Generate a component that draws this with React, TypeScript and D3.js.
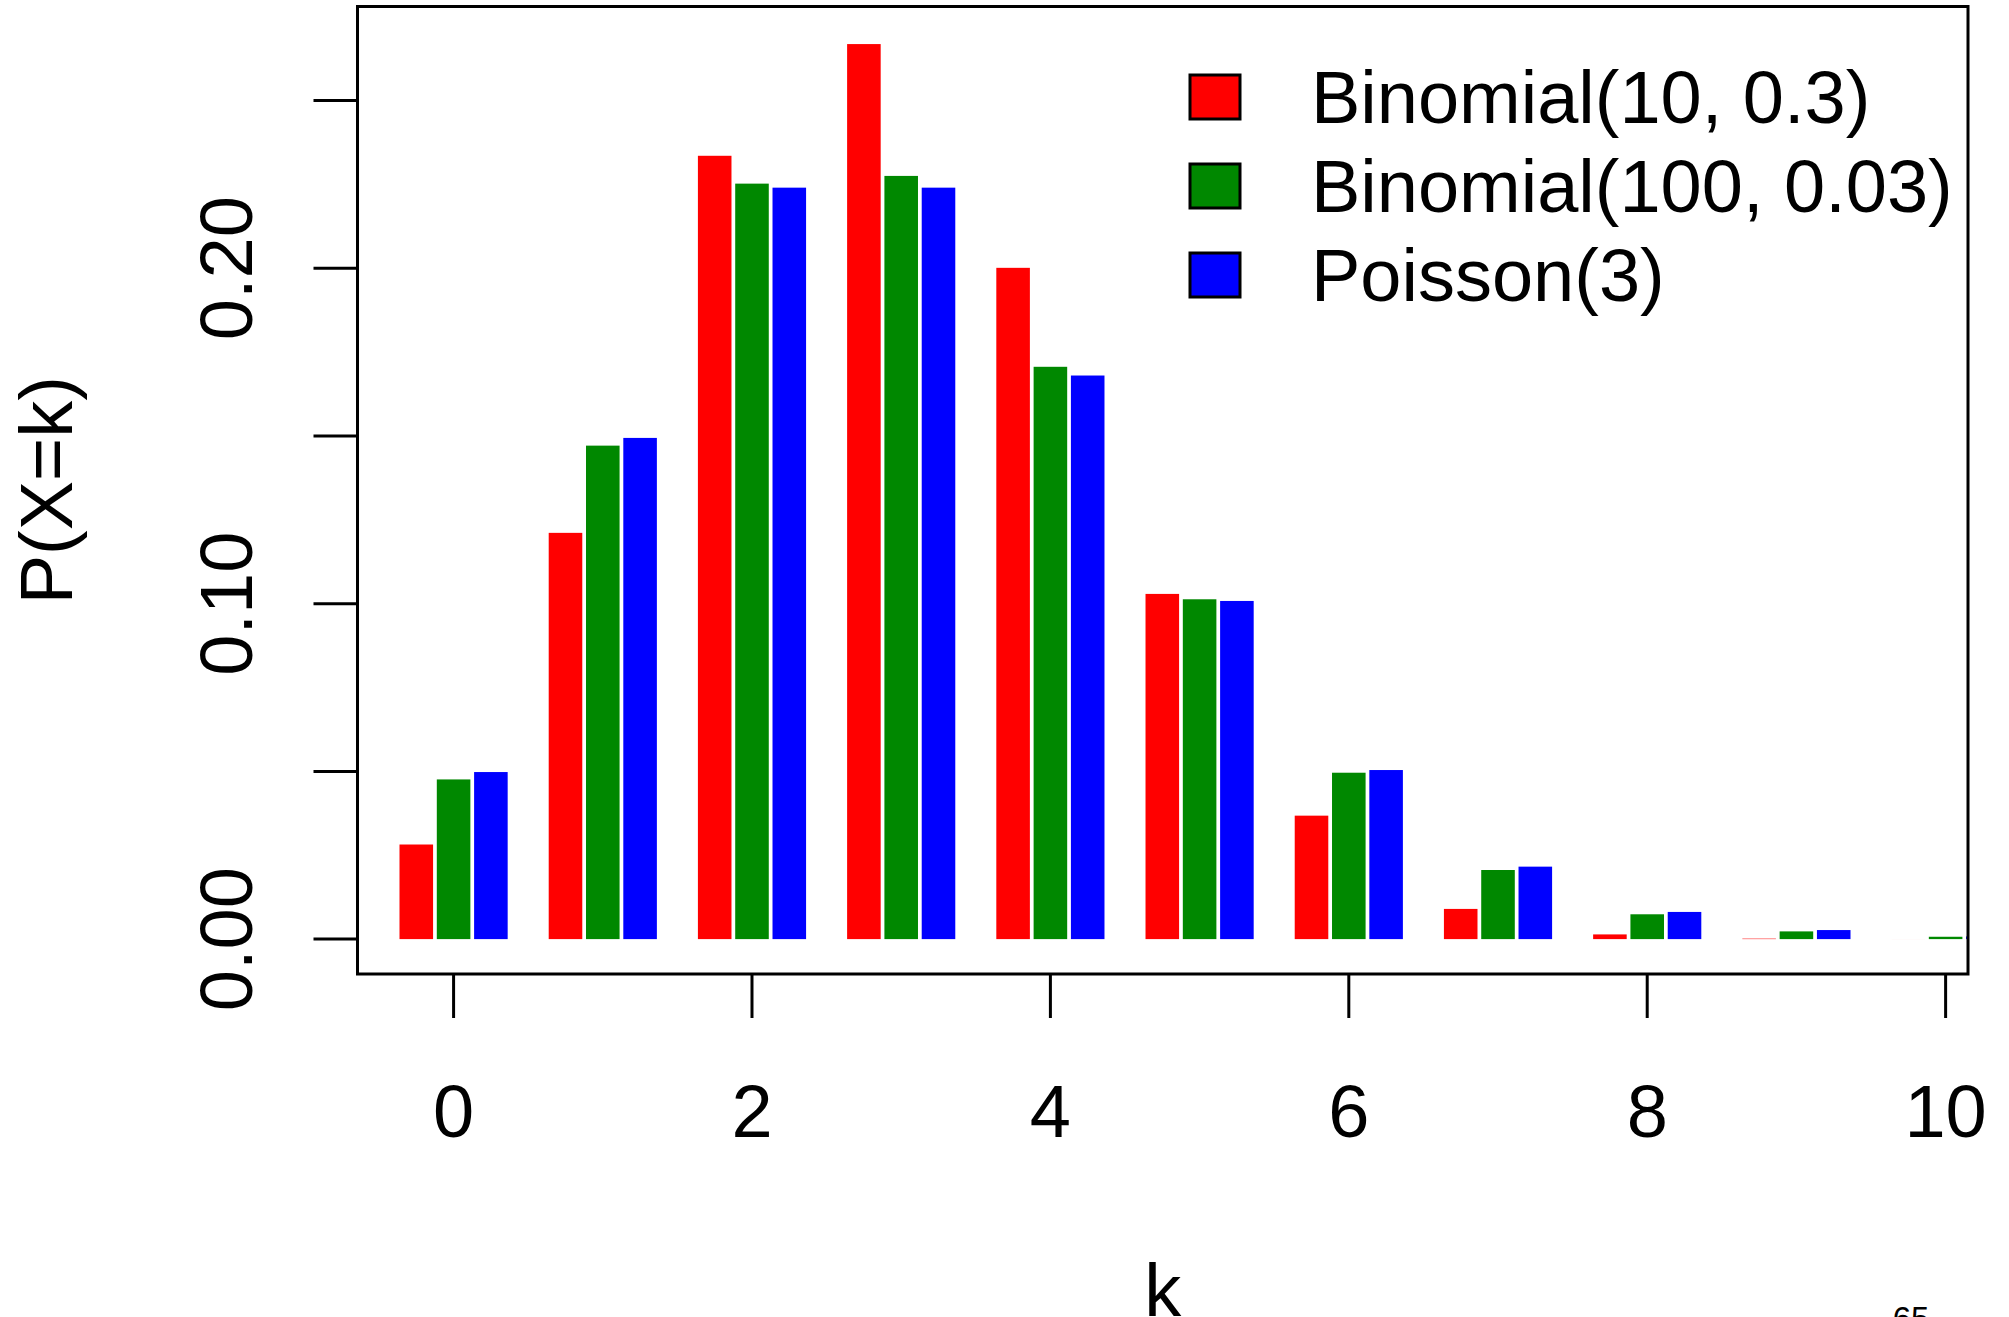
import React, { useEffect } from 'react';
import { scaleLinear } from 'd3';

// P(X=k)
const ks = [0, 1, 2, 3, 4, 5, 6, 7, 8, 9, 10];
const binom10 = [0.0282, 0.1211, 0.2335, 0.2668, 0.2001, 0.1029, 0.0368, 0.009, 0.0014, 0.00014, 0.000006];
const binom100 = [0.0476, 0.1471, 0.2252, 0.2275, 0.1706, 0.1013, 0.0496, 0.0206, 0.0074, 0.0023, 0.0007];
const poisson3 = [0.0498, 0.1494, 0.224, 0.224, 0.168, 0.1008, 0.0504, 0.0216, 0.0081, 0.0027, 0.0008];

const seriesNames = ['Binomial(10, 0.3)', 'Binomial(100, 0.03)', 'Poisson(3)'];
const seriesColors = ['#ff0000', '#008800', '#0000ff'];
const seriesValues = [binom10, binom100, poisson3];

const xTicks = [0, 2, 4, 6, 8, 10];
const yTicks = [0, 0.05, 0.1, 0.15, 0.2, 0.25];
const yTickLabels = ['0.00', '', '0.10', '', '0.20', ''];

const App = () => {
  useEffect(() => {
    document.body.style.margin = '0';
  }, []);

  const width = 2009;
  const height = 1317;
  const box = { left: 357.5, right: 1968, top: 6.5, bottom: 974 };
  const font = 'Liberation Sans, Arial, Helvetica, sans-serif';
  const fs = 74;
  const tickLen = 44;

  const x = scaleLinear().domain([-0.644, 10.15]).range([box.left, box.right]);
  const y = scaleLinear().domain([-0.0104, 0.278]).range([box.bottom, box.top]);

  const offsets = [-0.25, 0, 0.25]; // bar offsets within a group (in k units)
  const barW = 0.225;

  return (
    <svg width={width} height={height} style={{ display: 'block', background: '#fff' }} fontFamily={font}>
      <defs>
        <clipPath id="plotclip">
          <rect x={box.left} y={box.top} width={box.right - box.left} height={box.bottom - box.top} />
        </clipPath>
      </defs>

      {/* bars */}
      <g clipPath="url(#plotclip)">
        {seriesValues.map((vals, si) =>
          vals.map((v, i) => {
            const k = ks[i] + offsets[si];
            const x0 = x(k - barW / 2);
            const x1 = x(k + barW / 2);
            return (
              <rect key={si + '-' + i} x={x0} y={y(v)} width={x1 - x0} height={y(0) - y(v)} fill={seriesColors[si]} />
            );
          })
        )}
      </g>

      {/* box */}
      <rect x={box.left} y={box.top} width={box.right - box.left} height={box.bottom - box.top} fill="none" stroke="#000" strokeWidth={3} />

      {/* x axis */}
      {xTicks.map((t) => (
        <g key={'x' + t}>
          <line x1={x(t)} x2={x(t)} y1={box.bottom} y2={box.bottom + tickLen} stroke="#000" strokeWidth={3} />
          <text x={x(t)} y={1137} fontSize={fs} textAnchor="middle">{t}</text>
        </g>
      ))}

      {/* y axis */}
      {yTicks.map((t, i) => (
        <g key={'y' + t}>
          <line x1={box.left - tickLen} x2={box.left} y1={y(t)} y2={y(t)} stroke="#000" strokeWidth={3} />
          {yTickLabels[i] && (
            <text transform={`translate(252,${y(t)}) rotate(-90)`} fontSize={fs} textAnchor="middle">{yTickLabels[i]}</text>
          )}
        </g>
      ))}

      {/* axis titles */}
      <text transform={`translate(72,${(box.top + box.bottom) / 2}) rotate(-90)`} fontSize={fs} textAnchor="middle">P(X=k)</text>
      <text x={(box.left + box.right) / 2} y={1316} fontSize={fs} textAnchor="middle">k</text>

      {/* legend */}
      {seriesNames.map((name, i) => {
        const cy = 97 + i * 89;
        return (
          <g key={name}>
            <rect x={1190} y={cy - 22} width={50} height={44} fill={seriesColors[i]} stroke="#000" strokeWidth={3} />
            <text x={1311} y={cy + 26} fontSize={fs}>{name}</text>
          </g>
        );
      })}

      {/* page number, cut off at the bottom edge */}
      <text x={1911} y={1330} fontSize={33} textAnchor="middle">65</text>
    </svg>
  );
};

export default App;
